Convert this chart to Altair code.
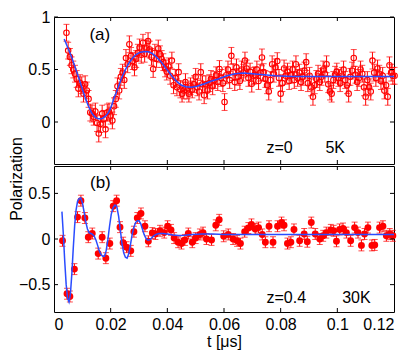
import altair as alt
import pandas as pd

# ---------------- panel (a): z=0, 5K ----------------
a_t = [
    0.0044, 0.0050, 0.0056, 0.0062, 0.0068, 0.0074, 0.0080, 0.0086, 0.0092, 0.0098,
    0.0104, 0.0110, 0.0116, 0.0122, 0.0128, 0.0134, 0.0140, 0.0146, 0.0152, 0.0158,
    0.0164, 0.0170, 0.0176, 0.0182, 0.0188, 0.0194, 0.0200, 0.0206, 0.0212, 0.0218,
    0.0224, 0.0230, 0.0236, 0.0242, 0.0248, 0.0254, 0.0260, 0.0266, 0.0272, 0.0278,
    0.0284, 0.0290, 0.0296, 0.0302, 0.0308, 0.0314, 0.0320, 0.0326, 0.0332, 0.0338,
    0.0344, 0.0350, 0.0356, 0.0362, 0.0368, 0.0374, 0.0380, 0.0386, 0.0392, 0.0398,
    0.0404, 0.0410, 0.0416, 0.0422, 0.0428, 0.0434, 0.0440, 0.0446, 0.0452, 0.0458,
    0.0464, 0.0470, 0.0476, 0.0482, 0.0488, 0.0494, 0.0500, 0.0506, 0.0512, 0.0518,
    0.0524, 0.0530, 0.0536, 0.0542, 0.0548, 0.0554, 0.0560, 0.0566, 0.0572, 0.0578,
    0.0584, 0.0590, 0.0596, 0.0602, 0.0608, 0.0614, 0.0620, 0.0626, 0.0632, 0.0638,
    0.0644, 0.0650, 0.0656, 0.0662, 0.0668, 0.0674, 0.0680, 0.0686, 0.0692, 0.0698,
    0.0704, 0.0710, 0.0716, 0.0722, 0.0728, 0.0734, 0.0740, 0.0746, 0.0752, 0.0758,
    0.0764, 0.0770, 0.0776, 0.0782, 0.0788, 0.0794, 0.0800, 0.0806, 0.0812, 0.0818,
    0.0824, 0.0830, 0.0836, 0.0842, 0.0848, 0.0854, 0.0860, 0.0866, 0.0872, 0.0878,
    0.0884, 0.0890, 0.0896, 0.0902, 0.0908, 0.0914, 0.0920, 0.0926, 0.0932, 0.0938,
    0.0944, 0.0950, 0.0956, 0.0962, 0.0968, 0.0974, 0.0980, 0.0986, 0.0992, 0.0998,
    0.1004, 0.1010, 0.1016, 0.1022, 0.1028, 0.1034, 0.1040, 0.1046, 0.1052, 0.1058,
    0.1064, 0.1070, 0.1076, 0.1082, 0.1088, 0.1094, 0.1100, 0.1106, 0.1112, 0.1118,
    0.1124, 0.1130, 0.1136, 0.1142, 0.1148, 0.1154, 0.1160, 0.1166, 0.1172, 0.1178,
    0.1184, 0.1190, 0.1196, 0.1202,
]
a_pol = [
    0.85, 0.68, 0.62, 0.54, 0.50, 0.46, 0.41, 0.32, 0.37, 0.35,
    0.27, 0.36, 0.30, 0.22, 0.09, 0.08, 0.05, 0.10, -0.01, -0.11,
    -0.02, 0.08, 0.03, -0.07, 0.09, 0.10, 0.06, 0.015, 0.15, 0.22,
    0.34, 0.30, 0.43, 0.47, 0.40, 0.61, 0.55, 0.74, 0.63, 0.58,
    0.52, 0.60, 0.66, 0.71, 0.64, 0.755, 0.65, 0.70, 0.77, 0.69,
    0.62, 0.505, 0.66, 0.60, 0.70, 0.645, 0.60, 0.57, 0.51, 0.48,
    0.53, 0.44, 0.585, 0.35, 0.42, 0.33, 0.475, 0.31, 0.27, 0.30,
    0.38, 0.30, 0.27, 0.34, 0.31, 0.36, 0.43, 0.33, 0.29, 0.475,
    0.36, 0.255, 0.36, 0.30, 0.37, 0.41, 0.34, 0.40, 0.445, 0.38,
    0.505, 0.42, 0.37, 0.19, 0.445, 0.50, 0.40, 0.63, 0.475, 0.38,
    0.52, 0.43, 0.39, 0.50, 0.47, 0.585, 0.51, 0.42, 0.48, 0.365,
    0.44, 0.445, 0.50, 0.39, 0.47, 0.615, 0.475, 0.41, 0.35, 0.29,
    0.40, 0.55, 0.46, 0.52, 0.58, 0.42, 0.27, 0.37, 0.51, 0.44,
    0.48, 0.39, 0.45, 0.50, 0.40, 0.55, 0.42, 0.47, 0.38, 0.43,
    0.49, 0.57, 0.37, 0.44, 0.33, 0.24, 0.35, 0.41, 0.46, 0.38,
    0.43, 0.50, 0.46, 0.55, 0.36, 0.29, 0.27, 0.40, 0.45, 0.48,
    0.42, 0.37, 0.44, 0.50, 0.40, 0.35, 0.27, 0.43, 0.49, 0.61,
    0.45, 0.38, 0.42, 0.50, 0.46, 0.33, 0.24, 0.40, 0.33, 0.29,
    0.585, 0.47, 0.42, 0.51, 0.46, 0.39, 0.44, 0.30, 0.35, 0.24,
    0.54, 0.47, 0.44, 0.44,
]
a_err = 0.08

a_fit_t = [0.0036, 0.0050, 0.0062, 0.0074, 0.0086, 0.0098, 0.0109, 0.0121, 0.0133,
           0.0145, 0.0157, 0.0168, 0.0180, 0.0190, 0.0197, 0.0205, 0.0212, 0.0220,
           0.0227, 0.0235, 0.0242, 0.0249, 0.0256, 0.0265, 0.0275, 0.0283, 0.0291,
           0.0305, 0.0320, 0.0333, 0.0345, 0.0357, 0.0368, 0.0379, 0.0390, 0.0403,
           0.0415, 0.0428, 0.0440, 0.0450, 0.0465, 0.0485, 0.0505, 0.0532, 0.0556,
           0.0580, 0.0610, 0.0640, 0.0670, 0.0700, 0.0740, 0.0780, 0.0840, 0.0900,
           0.1000, 0.1100, 0.1200]
a_fit = [0.79, 0.70, 0.62, 0.525, 0.43, 0.33, 0.24, 0.155, 0.085,
         0.045, 0.03, 0.03, 0.05, 0.08, 0.115, 0.17, 0.23, 0.28,
         0.335, 0.39, 0.44, 0.48, 0.52, 0.565, 0.60, 0.625, 0.645,
         0.665, 0.672, 0.67, 0.655, 0.63, 0.60, 0.57, 0.53, 0.485,
         0.44, 0.40, 0.37, 0.35, 0.335, 0.33, 0.34, 0.365, 0.39,
         0.41, 0.44, 0.46, 0.466, 0.46, 0.45, 0.44, 0.434, 0.433,
         0.433, 0.433, 0.433]

# ---------------- panel (b): z=0.4, 30K ----------------
b_t = [0.0030, 0.0046, 0.0056, 0.0072, 0.0083, 0.0095, 0.0109, 0.0121, 0.0135, 0.0156,
       0.0170, 0.0183, 0.0197, 0.0209, 0.0221, 0.0233, 0.0244, 0.0256, 0.0271, 0.0282,
       0.0294, 0.0307, 0.0321, 0.0333, 0.0347, 0.0358, 0.0374, 0.0389, 0.0401, 0.0413,
       0.0424, 0.0438, 0.0450, 0.0462, 0.0474, 0.0488, 0.0500, 0.0515, 0.0526, 0.0538,
       0.0556, 0.0571, 0.0583, 0.0599, 0.0615, 0.0632, 0.0646, 0.0658, 0.0673, 0.0686,
       0.0697, 0.0710, 0.0722, 0.0735, 0.0746, 0.0759, 0.0773, 0.0789, 0.0803, 0.0812,
       0.0824, 0.0836, 0.0847, 0.0867, 0.0883, 0.0894, 0.0908, 0.0922, 0.0938, 0.0950,
       0.0961, 0.0977, 0.0987, 0.0997, 0.1008, 0.1020, 0.1032, 0.1047, 0.1061, 0.1073,
       0.1085, 0.1096, 0.1108, 0.1122, 0.1132, 0.1149, 0.1161, 0.1173, 0.1185, 0.1196]
b_pol = [-0.02, -0.60, -0.63, -0.33, 0.24, 0.42, 0.23, 0.02, 0.06, -0.16,
         0.02, -0.21, -0.05, 0.36, 0.42, 0.13, -0.04, -0.09, -0.13, 0.08,
         0.23, 0.28, 0.14, -0.025, 0.065, 0.055, 0.09, 0.07, 0.14, 0.10,
         0.01, -0.035, -0.05, -0.01, 0.06, -0.035, 0.01, 0.05, 0.07, 0.0,
         -0.01, 0.15, 0.21, 0.03, 0.05, 0.0, -0.02, -0.05, 0.08, 0.12,
         0.16, 0.11, 0.125, 0.05, -0.035, 0.14, -0.035, 0.14, 0.18, 0.15,
         -0.05, -0.035, 0.105, -0.02, 0.055, -0.03, 0.18, 0.055, 0.0, 0.035,
         0.07, 0.10, 0.09, -0.025, 0.105, 0.115, 0.07, -0.02, 0.125, 0.07,
         -0.07, 0.055, 0.125, -0.07, -0.065, 0.125, 0.14, 0.035, 0.055, 0.035]
b_err = 0.06

b_fit_t = [0.0028, 0.0033, 0.0038, 0.0043, 0.0048, 0.0053, 0.0058, 0.0063, 0.0068,
           0.0073, 0.0078, 0.0083, 0.0088, 0.0094, 0.0100, 0.0106, 0.0112, 0.0118,
           0.0124, 0.0130, 0.0136, 0.0142, 0.0148, 0.0154, 0.0160, 0.0166, 0.0172,
           0.0178, 0.0184, 0.0190, 0.0196, 0.0202, 0.0208, 0.0214, 0.0218, 0.0222,
           0.0228, 0.0234, 0.0240, 0.0246, 0.0252, 0.0258, 0.0264, 0.0270, 0.0276,
           0.0282, 0.0288, 0.0294, 0.0300, 0.0306, 0.0312, 0.0318, 0.0324, 0.0330,
           0.0336, 0.0342, 0.0350, 0.0360, 0.0370, 0.0385, 0.0400, 0.0420, 0.0440,
           0.0460, 0.0490, 0.0520, 0.0560, 0.0600, 0.0800, 0.1000, 0.1200]
b_fit = [0.30, 0.05, -0.25, -0.50, -0.65, -0.69, -0.60, -0.38, -0.10,
         0.15, 0.32, 0.41, 0.44, 0.45, 0.40, 0.30, 0.19, 0.11,
         0.07, 0.06, 0.05, 0.03, -0.01, -0.07, -0.13, -0.17, -0.19,
         -0.19, -0.13, -0.01, 0.14, 0.27, 0.34, 0.37, 0.37, 0.35,
         0.25, 0.10, -0.05, -0.15, -0.20, -0.21, -0.16, -0.06, 0.05,
         0.13, 0.18, 0.20, 0.20, 0.17, 0.11, 0.05, 0.01, -0.01,
         -0.01, 0.00, 0.03, 0.05, 0.06, 0.06, 0.055, 0.045, 0.038,
         0.04, 0.05, 0.055, 0.055, 0.05, 0.05, 0.05, 0.05]

# ---------------- ticks and annotations ----------------
x_ticks = [0, 0.02, 0.04, 0.06, 0.08, 0.1, 0.12]
a_yticks = [0, 0.5, 1]
b_yticks = [-0.5, 0, 0.5]
a_ydomain = [-0.4, 1.0]
b_ydomain = [-0.8, 0.8]

a_notes = ["(a)", "z=0", "5K"]
a_notes_t = [0.0125, 0.075, 0.0958]
a_notes_y = [0.83, -0.245, -0.245]
b_notes = ["(b)", "z=0.4", "30K"]
b_notes_t = [0.0127, 0.075, 0.1017]
b_notes_y = [0.61, -0.647, -0.647]

W = 340
HA = 147
HB = 146
RED = "#ff0000"
BLUE = "#2a4cff"
FONT = "Liberation Sans"
TICK = 4


def panel(t, pol, err, fit_t, fit_y, yticks, ydom, H, filled, notes, notes_t, notes_y, show_x):
    df = pd.DataFrame({"t": t, "y": pol})
    df["lo"] = df["y"] - err
    df["hi"] = df["y"] + err
    fit = pd.DataFrame({"t": fit_t, "y": fit_y})
    xs = alt.Scale(domain=[0, 0.12], nice=False, zero=False)
    ys = alt.Scale(domain=ydom, nice=False, zero=False)
    if show_x:
        xaxis = alt.Axis(values=x_ticks, format=".2~f", ticks=False, domain=False, grid=False,
                         labelPadding=4, title="t [μs]", titlePadding=1,
                         labelFontSize=16, titleFontSize=16, labelFont=FONT, titleFont=FONT,
                         titleFontWeight="normal", labelColor="black", titleColor="black")
    else:
        xaxis = None
    yaxis = alt.Axis(values=yticks, format=".1~f", ticks=False, domain=False, grid=False,
                     labelPadding=4, title=None, labelFontSize=16, labelFont=FONT,
                     labelColor="black")
    base = alt.Chart(df)
    errbars = base.mark_rule(color=RED, strokeWidth=1).encode(
        x=alt.X("t:Q", scale=xs, axis=xaxis),
        y=alt.Y("lo:Q", scale=ys, axis=yaxis),
        y2="hi:Q",
    )
    cap_lo = base.mark_tick(color=RED, orient="horizontal", size=6, thickness=1).encode(
        x="t:Q", y="lo:Q")
    cap_hi = base.mark_tick(color=RED, orient="horizontal", size=6, thickness=1).encode(
        x="t:Q", y="hi:Q")
    if filled:
        pts = base.mark_circle(color=RED, size=48, opacity=1).encode(x="t:Q", y="y:Q")
    else:
        pts = base.mark_point(shape="circle", filled=False, color=RED, size=30,
                              strokeWidth=1.1, opacity=1).encode(x="t:Q", y="y:Q")
    line = alt.Chart(fit).mark_line(color=BLUE, strokeWidth=1.5).encode(x="t:Q", y="y:Q")

    xt = pd.DataFrame({"t": x_ticks[1:-1]})
    yt = pd.DataFrame({"v": yticks})
    tb = alt.Chart(xt).mark_rule(color="black", strokeWidth=1).encode(
        x="t:Q", y=alt.value(H), y2=alt.value(H - TICK))
    tt = alt.Chart(xt).mark_rule(color="black", strokeWidth=1).encode(
        x="t:Q", y=alt.value(0), y2=alt.value(TICK))
    tl = alt.Chart(yt).mark_rule(color="black", strokeWidth=1).encode(
        y="v:Q", x=alt.value(0), x2=alt.value(TICK))
    tr = alt.Chart(yt).mark_rule(color="black", strokeWidth=1).encode(
        y="v:Q", x=alt.value(W), x2=alt.value(W - TICK))

    nd = pd.DataFrame({"t": notes_t, "y": notes_y, "label": notes})
    big = alt.Chart(nd.iloc[:1]).mark_text(align="left", baseline="middle", fontSize=17,
                                           font=FONT, color="black").encode(
        x="t:Q", y="y:Q", text="label:N")
    small = alt.Chart(nd.iloc[1:]).mark_text(align="left", baseline="middle", fontSize=16,
                                             font=FONT, color="black").encode(
        x="t:Q", y="y:Q", text="label:N")

    return alt.layer(errbars, cap_lo, cap_hi, pts, line, tb, tt, tl, tr, big, small).properties(
        width=W, height=H)


pa = panel(a_t, a_pol, a_err, a_fit_t, a_fit, a_yticks, a_ydomain, HA, False,
           a_notes, a_notes_t, a_notes_y, False)
pb = panel(b_t, b_pol, b_err, b_fit_t, b_fit, b_yticks, b_ydomain, HB, True,
           b_notes, b_notes_t, b_notes_y, True)

chart = alt.vconcat(pa, pb, spacing=0).properties(
    title=alt.TitleParams("Polarization", orient="left", anchor="middle", fontSize=16,
                          font=FONT, fontWeight="normal", color="black", offset=-7),
    padding={"left": 0, "top": 0, "right": 0, "bottom": 0},
).configure_view(stroke="black", strokeWidth=1)

chart.save("out.html", embed_options={"renderer": "svg", "actions": False})
